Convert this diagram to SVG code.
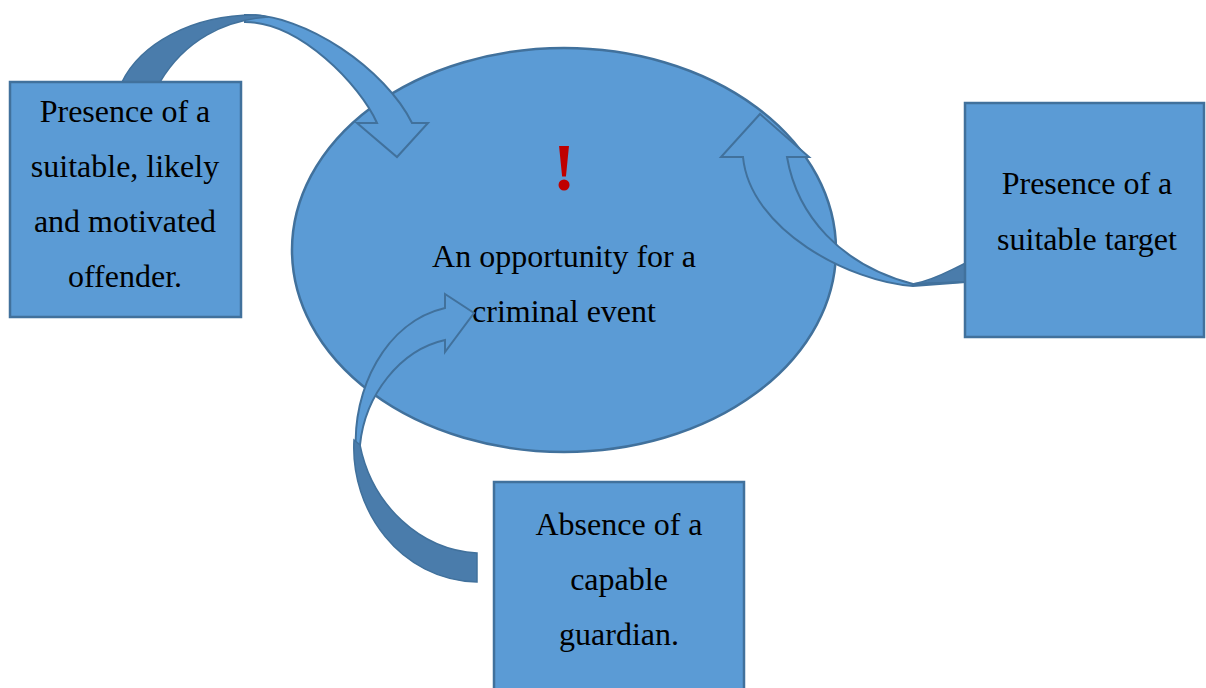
<svg xmlns="http://www.w3.org/2000/svg" width="1206" height="688" viewBox="0 0 1206 688">
<style>
.shape{fill:#5B9BD5;stroke:#41719C;stroke-width:2.5}
.dark{fill:#4A7CAB;stroke:#41719C;stroke-width:1.5}
.arrow{fill:#5B9BD5;stroke:#41719C;stroke-width:2}
.t{font-family:"Liberation Serif","Times New Roman",serif;font-size:32px;fill:#000;text-anchor:middle}
.ex{font-family:"Liberation Serif","Times New Roman",serif;font-size:68px;font-weight:bold;fill:#C00000;text-anchor:middle}
</style>
<rect width="1206" height="688" fill="#fff"/>
<g id="center">
<ellipse class="shape" cx="564" cy="250" rx="272" ry="202" stroke-width="2"/>
<text class="ex" x="564" y="190">!</text>
<text class="t" x="564" y="267">An opportunity for a</text>
<text class="t" x="564" y="322">criminal event</text>
</g>
<g id="connectors">
<path class="arrow" d="M245,15 C305,13 386,70 412,123 L428,123 L397,157 L357,123 L377,123 C360,85 300,22 245,22 Z"/>
<path class="dark" d="M122,82 C140,45 190,15 255,15 C260,15 264,16 268,17 C225,20 185,40 160,82 Z"/>
<path class="dark" d="M913,284 C935,280 950,270 966,263 L966,282 Z"/>
<path class="arrow" d="M966,282 L913,286 C850,282 750,230 743,157 L721,157 L760,114 L809,157 L787,157 C797,215 840,265 913,284 Z"/>
<path class="arrow" d="M356,452 C352,390 385,322 445,308 L445,294 L474,313 L445,352 L445,340 C400,350 365,395 360,445 Z"/>
<path class="dark" d="M477,553 C420,550 372,505 360,445 L354,440 C350,510 400,580 477,582 Z"/>
</g>
<g id="offender">
<rect class="shape" x="10" y="82" width="231" height="235"/>
<text class="t" x="125" y="122">Presence of a</text>
<text class="t" x="125" y="177">suitable, likely</text>
<text class="t" x="125" y="232">and motivated</text>
<text class="t" x="125" y="287">offender.</text>
</g>
<g id="target">
<rect class="shape" x="965" y="103" width="239" height="234"/>
<text class="t" x="1087" y="194">Presence of a</text>
<text class="t" x="1087" y="250">suitable target</text>
</g>
<g id="guardian">
<rect class="shape" x="494" y="482" width="250" height="220"/>
<text class="t" x="619" y="535">Absence of a</text>
<text class="t" x="619" y="590">capable</text>
<text class="t" x="619" y="645">guardian.</text>
</g>
</svg>
